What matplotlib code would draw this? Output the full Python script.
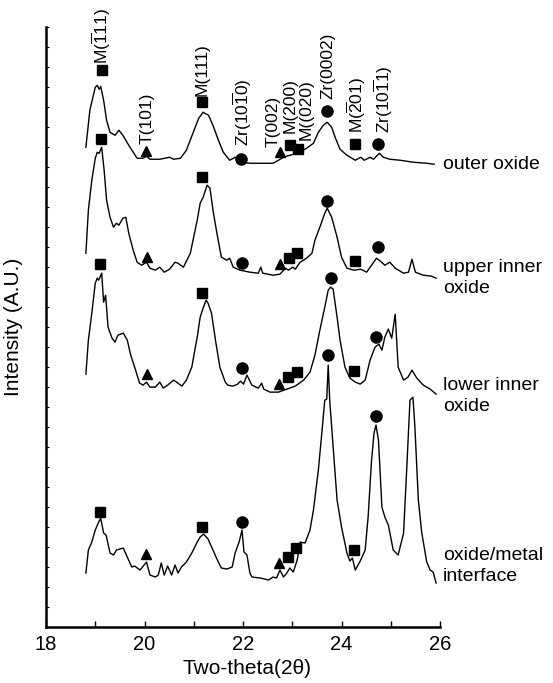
import numpy as np
import matplotlib
matplotlib.use('Agg')
import matplotlib.pyplot as plt

plt.rcParams['font.family'] = ['Liberation Sans', 'DejaVu Sans']
plt.rcParams['mathtext.fontset'] = 'custom'
plt.rcParams['mathtext.rm'] = 'Liberation Sans'
plt.rcParams['mathtext.default'] = 'regular'

# ---- traced patterns (2theta, intensity in arbitrary units) ----
outer_x = [18.81, 18.89, 19.00, 19.04, 19.08, 19.11, 19.17, 19.23, 19.30, 19.40, 19.48, 19.56, 19.68,
           19.85, 19.97, 20.04, 20.11, 20.31, 20.51, 20.59, 20.73, 20.85, 20.99, 21.10, 21.19, 21.30,
           21.39, 21.50, 21.60, 21.73, 21.84, 21.94, 22.15, 22.27, 22.61, 22.72, 22.82, 22.95, 23.12,
           23.29, 23.43, 23.53, 23.63, 23.71, 23.80, 23.87, 23.97, 24.11, 24.28, 24.39, 24.46, 24.58,
           24.65, 24.77, 24.85, 24.98, 25.19, 25.46, 25.73, 25.88]
outer_y = [480, 517, 540, 542, 538, 541, 527, 507, 495, 492, 497, 492, 482,
           469, 469, 471, 468, 468, 470, 468, 469, 477, 495, 509, 515, 512,
           502, 487, 475, 467, 470, 465, 464, 464, 464, 467, 470, 472, 474,
           479, 484, 495, 502, 505, 500, 490, 478, 472, 467, 470, 467, 470,
           468, 474, 470, 468, 467, 465, 464, 463]

upper_x = [18.81, 18.86, 18.93, 19.00, 19.04, 19.08, 19.13, 19.18, 19.23, 19.30, 19.37, 19.43, 19.48,
           19.56, 19.62, 19.68, 19.77, 19.85, 19.94, 20.04, 20.11, 20.22, 20.31, 20.40, 20.51, 20.62,
           20.68, 20.79, 20.93, 21.07, 21.13, 21.19, 21.27, 21.33, 21.39, 21.47, 21.56, 21.67, 21.73,
           21.80, 21.94, 22.14, 22.31, 22.36, 22.40, 22.61, 22.75, 22.86, 22.92, 23.01, 23.06, 23.16,
           23.29, 23.40, 23.46, 23.56, 23.66, 23.71, 23.80, 23.91, 24.00, 24.11, 24.25, 24.39, 24.51,
           24.61, 24.71, 24.79, 24.88, 24.98, 25.09, 25.26, 25.36, 25.43, 25.50, 25.66, 25.83, 25.92]
upper_y = [374, 417, 447, 469, 475, 474, 480, 457, 427, 410, 400, 404, 402,
           409, 410, 394, 377, 365, 362, 365, 359, 357, 360, 355, 358, 365,
           364, 360, 374, 407, 424, 430, 442, 439, 417, 394, 370, 367, 369,
           360, 357, 355, 354, 360, 354, 352, 353, 359, 357, 360, 358, 365,
           369, 374, 387, 400, 414, 419, 410, 390, 370, 359, 357, 358, 355,
           362, 369, 366, 362, 365, 359, 354, 355, 368, 355, 352, 351, 349]

lower_x = [18.81, 18.86, 18.93, 19.00, 19.04, 19.07, 19.13, 19.17, 19.21, 19.26, 19.34, 19.40, 19.46,
           19.57, 19.65, 19.72, 19.80, 19.90, 19.97, 20.04, 20.11, 20.22, 20.31, 20.38, 20.47, 20.59,
           20.65, 20.76, 20.85, 20.96, 21.07, 21.13, 21.19, 21.25, 21.29, 21.36, 21.45, 21.53, 21.64,
           21.69, 21.80, 21.89, 21.95, 22.01, 22.08, 22.18, 22.31, 22.38, 22.42, 22.55, 22.72, 22.89,
           23.06, 23.23, 23.36, 23.46, 23.56, 23.66, 23.73, 23.78, 23.83, 23.91, 23.97, 24.07, 24.17,
           24.28, 24.38, 24.48, 24.58, 24.68, 24.76, 24.82, 24.88, 24.95, 25.02, 25.09, 25.15, 25.26,
           25.35, 25.43, 25.53, 25.66, 25.80, 25.92]
lower_y = [253, 287, 314, 344, 349, 347, 354, 325, 332, 300, 289, 285, 292,
           294, 287, 272, 260, 244, 242, 245, 240, 240, 245, 239, 242, 247,
           245, 241, 247, 260, 290, 310, 319, 327, 324, 314, 284, 260, 245,
           242, 241, 243, 246, 243, 252, 242, 239, 244, 238, 235, 235, 238,
           241, 247, 255, 272, 297, 320, 337, 340, 338, 310, 287, 260, 249,
           245, 243, 247, 267, 280, 283, 277, 290, 298, 289, 313, 260, 247,
           250, 257, 249, 242, 238, 233]

inter_x = [18.81, 18.86, 18.93, 19.00, 19.07, 19.11, 19.17, 19.22, 19.30, 19.37, 19.43, 19.57, 19.65,
           19.74, 19.80, 19.91, 20.04, 20.11, 20.22, 20.28, 20.34, 20.40, 20.47, 20.55, 20.62, 20.68,
           20.75, 20.85, 20.96, 21.07, 21.13, 21.20, 21.29, 21.39, 21.47, 21.56, 21.67, 21.78, 21.84,
           21.92, 21.98, 22.02, 22.08, 22.14, 22.18, 22.35, 22.52, 22.61, 22.68, 22.75, 22.82, 22.89,
           22.95, 23.02, 23.10, 23.16, 23.26, 23.36, 23.43, 23.53, 23.60, 23.66, 23.70, 23.73, 23.76,
           23.83, 23.91, 24.00, 24.11, 24.17, 24.22, 24.28, 24.38, 24.48, 24.54, 24.61, 24.66, 24.70,
           24.75, 24.82, 24.88, 24.95, 25.05, 25.15, 25.26, 25.32, 25.39, 25.45, 25.49, 25.56, 25.63,
           25.73, 25.80, 25.86, 25.92]
inter_y = [54, 77, 85, 97, 105, 109, 94, 92, 74, 72, 77, 79, 70,
           60, 61, 57, 65, 52, 50, 52, 64, 52, 61, 52, 62, 54,
           60, 65, 74, 85, 90, 93, 88, 77, 68, 59, 58, 60, 74,
           85, 97, 75, 72, 54, 50, 49, 47, 50, 49, 57, 50, 54,
           59, 55, 67, 85, 84, 97, 117, 157, 194, 227, 228, 262, 227,
           180, 127, 100, 74, 66, 69, 57, 66, 77, 110, 167, 194, 202,
           187, 120, 110, 102, 77, 72, 94, 154, 227, 230, 200, 127, 94,
           65, 57, 55, 44]

# ---- phase markers: squares (monoclinic), triangles (tetragonal), circles (Zr) ----
sq_x = [19.13, 21.16, 22.95, 23.11, 24.28,
        19.11, 21.16, 22.94, 23.10, 24.28,
        19.09, 21.16, 22.92, 23.09, 24.26,
        19.09, 21.16, 22.91, 23.08, 24.26]
sq_y = [557, 525, 482, 478, 483,
        488, 450, 369, 374, 366,
        363, 334, 250, 255, 256,
        115, 100, 70, 79, 77]
tri_x = [20.04, 22.76, 20.06, 22.75, 20.05, 22.74, 20.04, 22.74]
tri_y = [476, 475, 370, 363, 253, 243, 73, 64]
circ_x = [21.96, 23.70, 24.74, 21.97, 23.71, 24.75, 21.97, 23.78, 24.71, 21.97, 23.73, 24.70]
circ_y = [468, 516, 483, 364, 426, 380, 259, 349, 290, 105, 272, 211]

# ---- peak labels (outer oxide) ----
peak_names = [r'M($\overline{1}$11)', 'M(111)', 'T(101)', r'Zr(10$\overline{1}$0)', 'T(002)',
              'M(200)', 'M((020)', 'Zr(0002)', r'M($\overline{2}$01)', r'Zr(10$\overline{1}$1)']
peak_x = [19.13, 21.16, 20.05, 21.98, 22.61, 22.95, 23.28, 23.73, 24.31, 24.84]
peak_y = [563, 531, 483, 481, 480, 494, 487, 528, 494, 494]

sample_names = ['outer oxide', 'upper inner\noxide', 'lower inner\noxide', 'oxide/metal\ninterface']
sample_y = [463, 349, 231, 61]

fig = plt.figure(figsize=(5.53, 6.83), dpi=100)
ax = fig.add_axes([0.0832, 0.082, 0.7125, 0.878])

for xs, ys in [(outer_x, outer_y), (upper_x, upper_y), (lower_x, lower_y), (inter_x, inter_y)]:
    ax.plot(xs, ys, color='black', lw=1.0)

ax.plot(sq_x, sq_y, ls='none', marker='s', color='black', ms=7)
ax.plot(tri_x, tri_y, ls='none', marker='^', color='black', ms=7.5)
ax.plot(circ_x, circ_y, ls='none', marker='o', color='black', ms=8)

for name, x, y in zip(peak_names, peak_x, peak_y):
    ax.text(x, y, name, rotation=90, ha='center', va='bottom', fontsize=12.5, clip_on=False)

for name, y in zip(sample_names, sample_y):
    ax.text(26.06, y, name, ha='left', va='center', fontsize=14, linespacing=1.3, clip_on=False)

ax.set_xlim(18, 26)
ax.set_ylim(0, 600)
ax.set_xticks([18, 20, 22, 24, 26])
ax.set_xticks(np.arange(19, 26, 2), minor=True)
ax.set_yticks(np.arange(0, 601, 20))
ax.set_yticklabels([])
ax.tick_params(axis='x', which='both', direction='in', length=4, width=1, labelsize=14.5, pad=6)
ax.tick_params(axis='y', which='both', direction='in', length=2.5, width=0.8)
for side in ['top', 'right']:
    ax.spines[side].set_visible(False)
for side in ['left', 'bottom']:
    ax.spines[side].set_linewidth(1.8)

ax.set_xlabel('Two-theta(2θ)', fontsize=15)
ax.xaxis.set_label_coords(0.51, -0.053)
ax.set_ylabel('Intensity (A.U.)', fontsize=15)
ax.yaxis.set_label_coords(-0.058, 0.5)

plt.savefig('out.png', dpi=100)
